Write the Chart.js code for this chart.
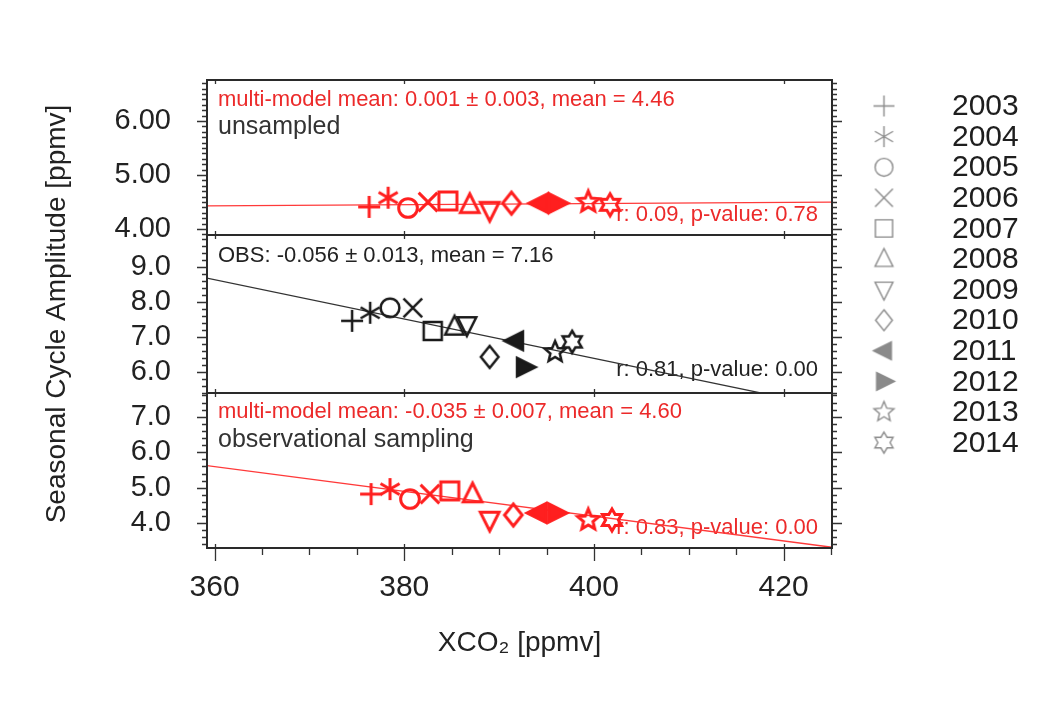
<!DOCTYPE html>
<html lang="en">
<head>
    <meta charset="UTF-8">
    <title>Seasonal Cycle Amplitude vs XCO2</title>
    <script src="https://cdn.jsdelivr.net/npm/chart.js"></script>
    <style>
        body {
            margin: 0;
            background: white;
        }
        canvas {
            display: block;
        }
    </style>
</head>
<body>
    <canvas id="grafico" width="1061" height="704"></canvas>
    <script>
        // values
        const years = ['2003', '2004', '2005', '2006', '2007', '2008', '2009', '2010', '2011', '2012', '2013', '2014'];
        const symbols = ['plus', 'asterisk', 'circle', 'cross', 'square', 'triUp', 'triDown', 'diamond', 'triLeft', 'triRight', 'star', 'hexagram'];

        const unsampledX = [376.3, 378.3, 380.4, 382.5, 384.6, 386.9, 389.0, 391.3, 394.3, 396.1, 399.4, 401.7];
        const unsampledY = [4.41, 4.58, 4.39, 4.50, 4.52, 4.45, 4.35, 4.48, 4.48, 4.48, 4.50, 4.45];
        const obsX = [374.5, 376.4, 378.5, 380.9, 383.0, 385.3, 386.6, 389.0, 391.7, 392.7, 395.9, 397.7];
        const obsY = [7.45, 7.68, 7.82, 7.82, 7.16, 7.28, 7.33, 6.42, 6.88, 6.13, 6.56, 6.85];
        const sampledX = [376.5, 378.5, 380.6, 382.7, 384.8, 387.2, 389.0, 391.5, 394.1, 396.0, 399.4, 401.9];
        const sampledY = [4.82, 4.96, 4.68, 4.82, 4.91, 4.82, 4.09, 4.23, 4.29, 4.29, 4.09, 4.09];

        // regression lines, end points
        const fitX = [359, 426];
        const unsampledFitY = [4.43, 4.50];
        const obsFitY = [8.68, 4.92];
        const sampledFitY = [5.63, 3.29];

        const xTicks = [360, 380, 400, 420];
        const topTicks = [4, 5, 6];
        const midTicks = [6, 7, 8, 9];
        const botTicks = [4, 5, 6, 7];

        const rosso = '#ff1f1f';
        const nero = '#1a1a1a';
        Chart.defaults.font.family = "'Liberation Sans', Arial, sans-serif";

        function simbolo(shape, color, size, lw) {
            const pad = Math.ceil(lw) + 2;
            const c = document.createElement('canvas');
            c.width = c.height = size + pad * 2;
            const g = c.getContext('2d');
            g.translate(c.width / 2, c.height / 2);
            g.strokeStyle = color;
            g.fillStyle = color;
            g.lineWidth = lw;
            g.lineJoin = 'miter';
            const r = size / 2;
            g.beginPath();
            if (shape === 'plus') {
                g.moveTo(-r, 0); g.lineTo(r, 0);
                g.moveTo(0, -r); g.lineTo(0, r);
            } else if (shape === 'asterisk') {
                [90, 30, 150].forEach(a => {
                    const dx = Math.cos(a * Math.PI / 180) * r, dy = Math.sin(a * Math.PI / 180) * r;
                    g.moveTo(-dx, -dy); g.lineTo(dx, dy);
                });
            } else if (shape === 'circle') {
                g.arc(0, 0, r * 0.85, 0, Math.PI * 2);
            } else if (shape === 'cross') {
                const d = r * 0.85;
                g.moveTo(-d, -d); g.lineTo(d, d);
                g.moveTo(d, -d); g.lineTo(-d, d);
            } else if (shape === 'square') {
                g.rect(-r * 0.82, -r * 0.82, r * 1.64, r * 1.64);
            } else if (shape === 'triUp') {
                g.moveTo(0, -r); g.lineTo(r * 0.85, r * 0.7); g.lineTo(-r * 0.85, r * 0.7); g.closePath();
            } else if (shape === 'triDown') {
                g.moveTo(0, r); g.lineTo(r * 0.85, -r * 0.7); g.lineTo(-r * 0.85, -r * 0.7); g.closePath();
            } else if (shape === 'diamond') {
                g.moveTo(0, -r); g.lineTo(r * 0.8, 0); g.lineTo(0, r); g.lineTo(-r * 0.8, 0); g.closePath();
            } else if (shape === 'triLeft') {
                g.moveTo(-r, 0); g.lineTo(r * 0.7, -r * 0.85); g.lineTo(r * 0.7, r * 0.85); g.closePath();
                g.fill();
            } else if (shape === 'triRight') {
                g.moveTo(r, 0); g.lineTo(-r * 0.7, -r * 0.85); g.lineTo(-r * 0.7, r * 0.85); g.closePath();
                g.fill();
            } else if (shape === 'star') {
                for (let i = 0; i < 10; i++) {
                    const rr = i % 2 === 0 ? r : r * 0.45;
                    const a = -Math.PI / 2 + i * Math.PI / 5;
                    g.lineTo(Math.cos(a) * rr, Math.sin(a) * rr);
                }
                g.closePath();
            } else if (shape === 'hexagram') {
                for (let i = 0; i < 12; i++) {
                    const rr = i % 2 === 0 ? r : r * 0.58;
                    const a = -Math.PI / 2 + i * Math.PI / 6;
                    g.lineTo(Math.cos(a) * rr, Math.sin(a) * rr);
                }
                g.closePath();
            }
            g.stroke();
            return c;
        }

        const simboliRossi = symbols.map(s => simbolo(s, rosso, 22, 3));
        const simboliNeri = symbols.map(s => simbolo(s, nero, 22, 2.5));
        const simboliGrigi = symbols.map(s => simbolo(s, '#8a8a8a', 21, 1.4));

        function punti(xs, ys) {
            return xs.map((x, i) => ({x: x, y: ys[i]}));
        }

        const note = [
            {asse: 'yTop', testo: 'multi-model mean: 0.001 \u00b1 0.003, mean = 4.46', colore: '#ec2a2a', dy: 20, size: 22},
            {asse: 'yTop', testo: 'unsampled', colore: '#333', dy: 47, size: 25},
            {asse: 'yTop', testo: 'r: 0.09, p-value: 0.78', colore: '#ec2a2a', dy: -20, size: 22, destra: true},
            {asse: 'yMid', testo: 'OBS: -0.056 \u00b1 0.013, mean = 7.16', colore: '#222', dy: 21, size: 22},
            {asse: 'yMid', testo: 'r: 0.81, p-value: 0.00', colore: '#222', dy: -23, size: 22, destra: true},
            {asse: 'yBot', testo: 'multi-model mean: -0.035 \u00b1 0.007, mean = 4.60', colore: '#ec2a2a', dy: 19, size: 22},
            {asse: 'yBot', testo: 'observational sampling', colore: '#333', dy: 47, size: 25},
            {asse: 'yBot', testo: 'r: 0.83, p-value: 0.00', colore: '#ec2a2a', dy: -20, size: 22, destra: true}
        ];

        const pannelli = [
            {id: 'yTop', minore: 0.1},
            {id: 'yMid', minore: 0.2},
            {id: 'yBot', minore: 0.2}
        ];

        // text inside the panels, drawn below the markers
        const notePlugin = {
            id: 'note',
            beforeDatasetsDraw(chart) {
                const ctx = chart.ctx;
                const a = chart.chartArea;
                ctx.save();
                ctx.textBaseline = 'middle';
                note.forEach(n => {
                    const s = chart.scales[n.asse];
                    ctx.font = n.size + "px 'Liberation Sans', Arial, sans-serif";
                    ctx.fillStyle = n.colore;
                    ctx.textAlign = n.destra ? 'right' : 'left';
                    const x = n.destra ? a.right - 14 : a.left + 11;
                    const y = n.dy > 0 ? s.top + n.dy : s.bottom + n.dy;
                    ctx.fillText(n.testo, x, y);
                });
                ctx.restore();
            }
        };

        // frame, panel separators, tick marks and the year legend
        const cornicePlugin = {
            id: 'cornice',
            afterDraw(chart) {
                const ctx = chart.ctx;
                const a = chart.chartArea;
                const xs = chart.scales.x;
                ctx.save();
                ctx.strokeStyle = '#333';
                ctx.lineWidth = 1.3;
                ctx.beginPath();
                pannelli.forEach(p => {
                    const s = chart.scales[p.id];
                    const k0 = Math.ceil(s.min / p.minore - 1e-6);
                    for (let k = k0; k * p.minore <= s.max + 1e-9; k++) {
                        const v = k * p.minore;
                        const y = Math.round(s.getPixelForValue(v)) + 0.5;
                        const lungo = Math.abs(v - Math.round(v)) < 1e-6;
                        const len = lungo ? 10 : 5;
                        ctx.moveTo(a.left - len, y); ctx.lineTo(a.left, y);
                        ctx.moveTo(a.right, y); ctx.lineTo(a.right + len, y);
                    }
                    xTicks.forEach(v => {
                        const x = Math.round(xs.getPixelForValue(v)) + 0.5;
                        ctx.moveTo(x, s.top); ctx.lineTo(x, s.top + 4);
                        ctx.moveTo(x, s.bottom); ctx.lineTo(x, s.bottom - 4);
                    });
                });
                for (let v = 360; v <= xs.max; v += 5) {
                    const x = Math.round(xs.getPixelForValue(v)) + 0.5;
                    const len = v % 20 === 0 ? 13 : 7;
                    ctx.moveTo(x, a.bottom); ctx.lineTo(x, a.bottom + len);
                }
                ctx.stroke();

                ctx.lineWidth = 2;
                ctx.strokeStyle = '#2a2a2a';
                ctx.strokeRect(a.left, a.top, a.right - a.left, a.bottom - a.top);
                ctx.beginPath();
                ['yMid', 'yBot'].forEach(id => {
                    const y = chart.scales[id].top;
                    ctx.moveTo(a.left, y); ctx.lineTo(a.right, y);
                });
                ctx.stroke();

                // year legend
                ctx.font = "30px 'Liberation Sans', Arial, sans-serif";
                ctx.fillStyle = '#1e1e1e';
                ctx.textAlign = 'left';
                ctx.textBaseline = 'middle';
                years.forEach((anno, i) => {
                    const y = 106 + i * 30.6;
                    const img = simboliGrigi[i];
                    ctx.drawImage(img, 884 - img.width / 2, y - img.height / 2);
                    ctx.fillText(anno, 952, y + 1);
                });
                ctx.restore();
            }
        };

        const assiY = (ticks, decimali, peso) => ({
            type: 'linear',
            position: 'left',
            stack: 'pannelli',
            stackWeight: peso,
            afterBuildTicks: s => { s.ticks = ticks.map(v => ({value: v})); },
            afterFit: s => { s.width = 207; },
            grid: {display: false, drawTicks: false},
            border: {display: false},
            ticks: {
                callback: v => Number(v).toFixed(decimali),
                font: {size: 29},
                color: '#222',
                padding: 36,
                autoSkip: false
            }
        });

        const scaleBot = assiY(botTicks, 1, 155);
        scaleBot.min = 3.30; scaleBot.max = 7.67;
        const scaleMid = assiY(midTicks, 1, 158);
        scaleMid.min = 5.39; scaleMid.max = 9.90;
        scaleMid.title = {
            display: true,
            text: 'Seasonal Cycle Amplitude [ppmv]',
            font: {size: 28},
            color: '#222',
            padding: {top: 40, bottom: 0}
        };
        const scaleTop = assiY(topTicks, 2, 155);
        scaleTop.min = 3.89; scaleTop.max = 6.76;

        new Chart(document.getElementById('grafico'), {
            type: 'scatter',
            data: {
                datasets: [
                    {
                        label: 'unsampled',
                        data: punti(unsampledX, unsampledY),
                        yAxisID: 'yTop',
                        pointStyle: simboliRossi,
                        pointRadius: 11
                    },
                    {
                        label: 'OBS',
                        data: punti(obsX, obsY),
                        yAxisID: 'yMid',
                        pointStyle: simboliNeri,
                        pointRadius: 11
                    },
                    {
                        label: 'observational sampling',
                        data: punti(sampledX, sampledY),
                        yAxisID: 'yBot',
                        pointStyle: simboliRossi,
                        pointRadius: 11
                    },
                    {
                        label: 'fit unsampled',
                        data: punti(fitX, unsampledFitY),
                        yAxisID: 'yTop',
                        showLine: true,
                        borderColor: '#ff3a3a',
                        borderWidth: 1.3,
                        pointRadius: 0,
                        order: 5
                    },
                    {
                        label: 'fit OBS',
                        data: punti(fitX, obsFitY),
                        yAxisID: 'yMid',
                        showLine: true,
                        borderColor: '#333',
                        borderWidth: 1.3,
                        pointRadius: 0,
                        order: 5
                    },
                    {
                        label: 'fit sampled',
                        data: punti(fitX, sampledFitY),
                        yAxisID: 'yBot',
                        showLine: true,
                        borderColor: '#ff3a3a',
                        borderWidth: 1.3,
                        pointRadius: 0,
                        order: 5
                    }
                ]
            },
            options: {
                responsive: false,
                animation: false,
                layout: {
                    padding: {left: 0, top: 80, right: 229, bottom: 0}
                },
                plugins: {
                    legend: {display: false},
                    tooltip: {enabled: false}
                },
                scales: {
                    x: {
                        type: 'linear',
                        position: 'bottom',
                        min: 359.2,
                        max: 425.1,
                        afterBuildTicks: s => { s.ticks = xTicks.map(v => ({value: v})); },
                        afterFit: s => { s.height = 156; },
                        grid: {display: false, drawTicks: false},
                        border: {display: false},
                        ticks: {
                            font: {size: 30},
                            color: '#222',
                            padding: 22,
                            maxRotation: 0,
                            autoSkip: false
                        },
                        title: {
                            display: true,
                            text: 'XCO\u2082 [ppmv]',
                            font: {size: 28},
                            color: '#222',
                            padding: {top: 0, bottom: 44}
                        }
                    },
                    yBot: scaleBot,
                    yMid: scaleMid,
                    yTop: scaleTop
                }
            },
            plugins: [notePlugin, cornicePlugin]
        });
    </script>
</body>
</html>
